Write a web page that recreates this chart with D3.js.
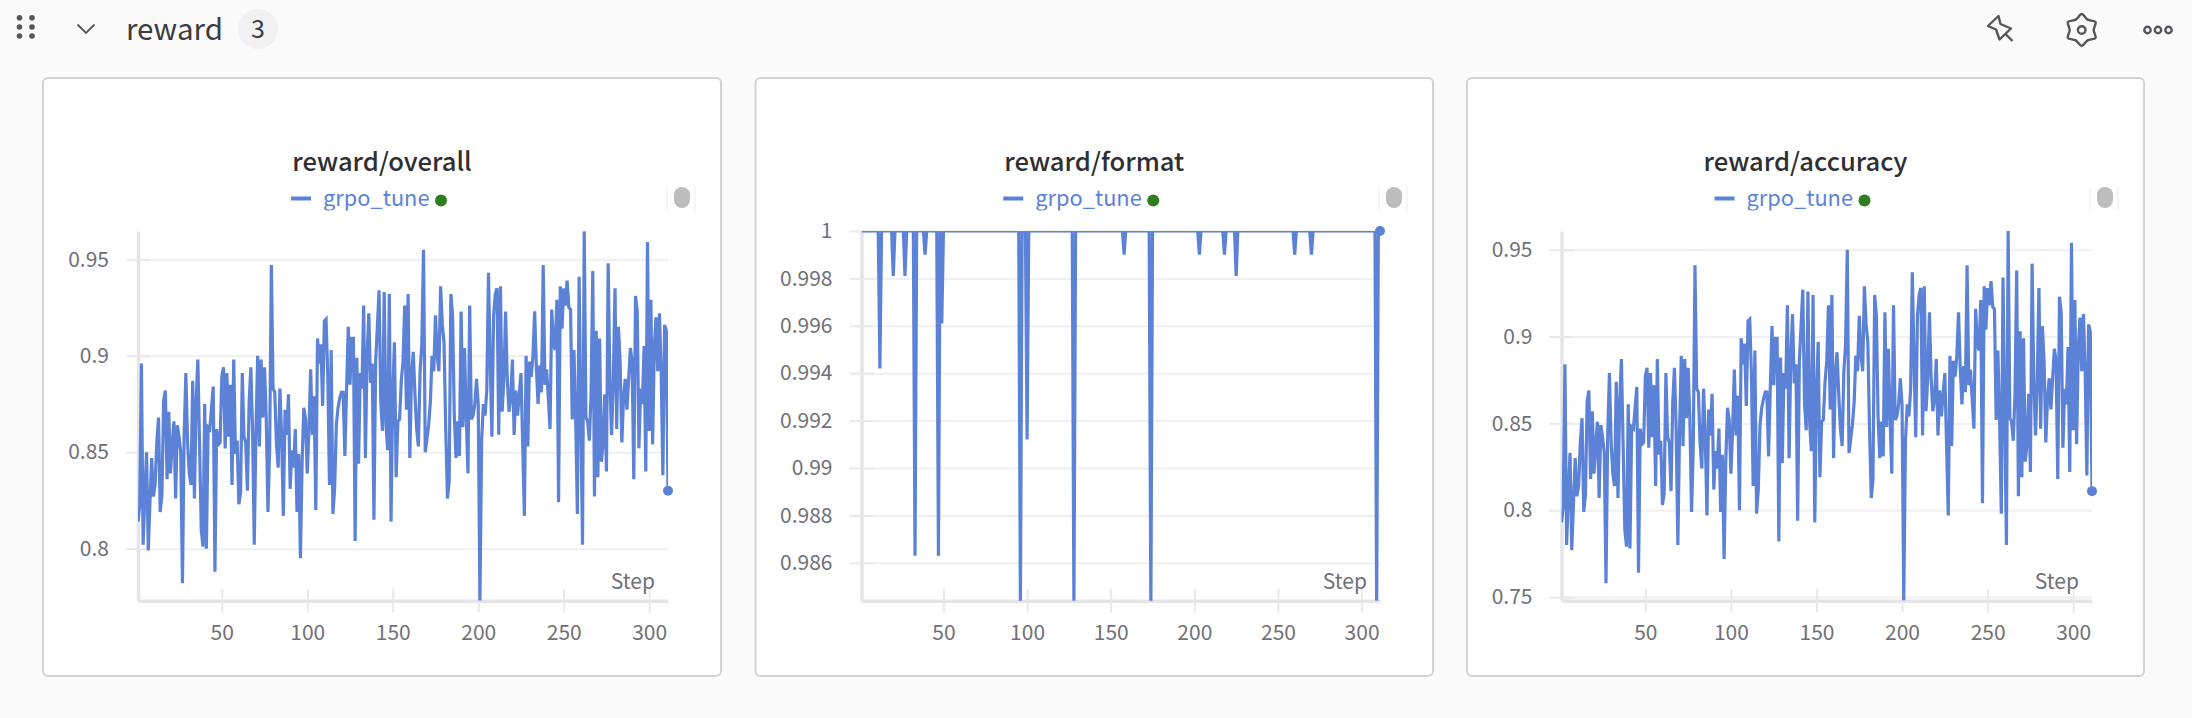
<!DOCTYPE html>
<html>
<head>
<meta charset="utf-8">
<script src="https://cdn.jsdelivr.net/npm/d3@7"></script>
<style>
  html, body { margin: 0; background: #fafafa; overflow: hidden; }
  text { font-family: "Noto Sans CJK SC", "Noto Sans", sans-serif; }
</style>
</head>
<body>
<div id="chart"></div>
<script>
const overall = [
  .814,.822,.896,.802,.828,.85,.799,.824,.847,.827,.833,.855,.868,.819,.828,.877,.882,.836,.871,.839,
  .854,.866,.826,.864,.858,.85,.782,.859,.891,.855,.839,.833,.887,.826,.876,.898,.854,.81,.801,.875,
  .8,.863,.862,.873,.884,.788,.862,.854,.855,.889,.894,.852,.891,.858,.885,.833,.898,.849,.856,.823,
  .829,.891,.858,.855,.83,.876,.894,.862,.802,.862,.9,.853,.898,.868,.894,.868,.819,.852,.947,.883,
  .881,.854,.842,.883,.859,.817,.872,.859,.88,.831,.851,.842,.862,.819,.849,.795,.845,.873,.867,.839,
  .862,.893,.859,.879,.82,.909,.896,.906,.874,.918,.919,.89,.833,.903,.818,.831,.864,.873,.878,.881,
  .881,.848,.883,.915,.885,.909,.909,.804,.899,.844,.891,.883,.926,.847,.9,.922,.886,.896,.815,.897,
  .915,.934,.876,.861,.933,.866,.851,.932,.814,.88,.907,.837,.866,.867,.887,.897,.926,.872,.932,.847,
  .89,.902,.88,.862,.853,.892,.906,.955,.85,.857,.864,.876,.9,.892,.921,.9,.892,.936,.916,.907,
  .862,.826,.835,.932,.921,.869,.847,.866,.848,.923,.863,.904,.868,.839,.926,.867,.869,.875,.888,.875,
  .773,.856,.875,.869,.882,.943,.897,.858,.921,.932,.935,.859,.936,.871,.888,.923,.888,.871,.878,.898,
  .859,.882,.869,.88,.891,.854,.817,.9,.853,.897,.889,.9,.923,.894,.875,.895,.881,.947,.885,.893,
  .878,.862,.924,.906,.903,.929,.824,.936,.914,.935,.926,.939,.925,.924,.867,.903,.867,.818,.941,.869,
  .802,.9645,.868,.866,.856,.88,.944,.827,.913,.837,.909,.845,.854,.88,.84,.948,.887,.859,.887,.935,
  .862,.915,.897,.855,.878,.888,.872,.888,.904,.897,.836,.931,.923,.852,.883,.875,.905,.84,.959,.861,
  .929,.854,.905,.92,.892,.922,.892,.838,.916,.913,.83
];

const accuracy = [
  .793,.802,.884,.78,.809,.833,.777,.804,.83,.808,.814,.839,.853,.799,.809,.863,.869,.818,.857,.821,
  .838,.851,.807,.849,.842,.833,.758,.843,.879,.839,.821,.814,.874,.807,.862,.887,.838,.789,.779,.861,
  .778,.848,.847,.859,.871,.764,.847,.838,.839,.877,.882,.836,.879,.842,.872,.814,.887,.832,.84,.803,
  .81,.879,.842,.839,.811,.862,.882,.847,.78,.847,.889,.837,.887,.853,.882,.853,.799,.836,.941,.87,
  .868,.838,.824,.87,.843,.797,.858,.843,.867,.812,.834,.824,.847,.799,.832,.772,.828,.859,.852,.821,
  .847,.881,.843,.866,.8,.899,.884,.896,.86,.909,.91,.878,.814,.892,.798,.812,.849,.859,.864,.868,
  .868,.831,.87,.906,.872,.899,.899,.782,.888,.827,.879,.87,.918,.83,.889,.913,.873,.884,.794,.886,
  .906,.927,.862,.846,.926,.851,.834,.924,.793,.867,.897,.819,.851,.852,.874,.886,.918,.858,.924,.83,
  .878,.891,.867,.847,.837,.88,.896,.95,.833,.841,.849,.862,.889,.88,.912,.889,.88,.929,.907,.897,
  .847,.807,.817,.924,.912,.854,.83,.851,.831,.914,.848,.893,.853,.821,.918,.852,.854,.861,.876,.861,
  .748,.84,.861,.854,.869,.937,.886,.842,.912,.924,.928,.843,.929,.857,.876,.914,.876,.857,.864,.887,
  .843,.869,.854,.867,.879,.838,.797,.889,.837,.886,.877,.889,.914,.882,.861,.883,.868,.941,.872,.881,
  .864,.847,.916,.896,.892,.921,.804,.929,.904,.928,.918,.932,.917,.916,.852,.892,.852,.798,.934,.854,
  .78,.961,.853,.851,.84,.867,.938,.808,.903,.819,.899,.828,.838,.867,.822,.942,.874,.843,.874,.928,
  .847,.906,.886,.839,.864,.876,.858,.876,.893,.886,.818,.923,.914,.836,.87,.861,.894,.822,.954,.846,
  .921,.838,.894,.911,.88,.913,.88,.82,.907,.903,.811
];

// format sits at 1 except for these steps
const formatDipSteps = [12, 20, 27, 33, 39, 47, 49, 96, 100, 128, 158, 174, 203, 218, 225, 260, 270, 309];
const formatDipValues = [.9942, .9981, .9981, .9863, .999, .9863, .9961, .984, .9912, .984, .999, .984, .999, .999, .9981, .999, .999, .984];
const formatDips = new Map(formatDipSteps.map((s, i) => [s, formatDipValues[i]]));
const format = d3.range(1, 312).map(s => formatDips.has(s) ? formatDips.get(s) : 1);

const xTicks = [50, 100, 150, 200, 250, 300];
const overallTicks = [0.8, 0.85, 0.9, 0.95];
const formatTicks = [0.986, 0.988, 0.99, 0.992, 0.994, 0.996, 0.998, 1];
const accuracyTicks = [0.75, 0.8, 0.85, 0.9, 0.95];

const WIDTH = 2192;
const HEIGHT = 718;
const BLUE = "#5c82d8";
const AXIS_TEXT = "#707078";

const svg = d3.select("#chart")
  .append("svg")
  .attr("width", WIDTH)
  .attr("height", HEIGHT)
  .attr("viewBox", `0 0 ${WIDTH} ${HEIGHT}`)
  .style("display", "block");

// section header
const header = svg.append("g").attr("id", "header");

header.selectAll("circle.grip")
  .data(d3.cross([19.5, 32], [17.7, 27, 36]))
  .enter()
  .append("circle")
  .attr("class", "grip")
  .attr("cx", d => d[0])
  .attr("cy", d => d[1])
  .attr("r", 2.8)
  .attr("fill", "#55555c");

header.append("path")
  .attr("d", "M77.5 24.5 L86 33 L94.5 24.5")
  .attr("fill", "none")
  .attr("stroke", "#55555c")
  .attr("stroke-width", 1.8);

header.append("text")
  .attr("x", 126)
  .attr("y", 40)
  .attr("font-size", 29.5)
  .attr("fill", "#3c3c42")
  .text("reward");

header.append("circle")
  .attr("cx", 258)
  .attr("cy", 29)
  .attr("r", 20)
  .attr("fill", "#f1f1f2");

header.append("text")
  .attr("x", 258)
  .attr("y", 38)
  .attr("text-anchor", "middle")
  .attr("font-size", 25)
  .attr("fill", "#3c3c42")
  .text("3");

// pin, gear and more icons
const icons = svg.append("g")
  .attr("fill", "none")
  .attr("stroke", "#55555c")
  .attr("stroke-width", 2.4)
  .attr("stroke-linejoin", "round");

icons.append("path")
  .attr("d", "M1988 26 L1998.5 16 L2000.5 24 L2011 28.5 L1999.5 39.5 L1996 29.5 Z M2005 33.5 L2012.5 41");

const gearPoints = d3.range(12).map(i => [i * Math.PI / 6, i % 2 ? 12 : 16]);
icons.append("path")
  .attr("transform", "translate(2081.7,30)")
  .attr("d", d3.lineRadial().curve(d3.curveCardinalClosed.tension(0.2))(gearPoints));

icons.append("circle")
  .attr("cx", 2081.7)
  .attr("cy", 30)
  .attr("r", 3.8);

icons.selectAll("circle.more")
  .data([2147.5, 2158, 2168.5])
  .enter()
  .append("circle")
  .attr("class", "more")
  .attr("cx", d => d)
  .attr("cy", 30)
  .attr("r", 3.2);

function drawPanel(id, title, values, yDomain, yTicks, card, plot) {
  const g = svg.append("g").attr("id", id);
  const cx = (card.left + card.right) / 2;

  g.append("rect")
    .attr("x", card.left)
    .attr("y", 78)
    .attr("width", card.right - card.left)
    .attr("height", 598)
    .attr("rx", 5)
    .attr("fill", "#fff")
    .attr("stroke", "#d3d3d5")
    .attr("stroke-width", 2);

  const x = d3.scaleLinear().domain([1, 311]).range([plot.left, plot.right]);
  const y = d3.scaleLinear().domain(yDomain).range([600.7, 231]);

  // grid
  g.append("g")
    .attr("transform", `translate(${plot.left},0)`)
    .call(d3.axisLeft(y).tickValues(yTicks).tickSize(-(plot.right - plot.left)).tickFormat(""))
    .call(a => a.select(".domain").remove())
    .call(a => a.selectAll("line").attr("stroke", "#efeff1").attr("stroke-width", 2));

  // y axis
  g.append("g")
    .attr("transform", `translate(${plot.left},0)`)
    .call(d3.axisLeft(y).tickValues(yTicks).tickSizeInner(12).tickSizeOuter(0).tickPadding(17).tickFormat(d => d))
    .call(a => a.select(".domain").attr("stroke", "#e5e5e9").attr("stroke-width", 3.5))
    .call(a => a.selectAll("line").attr("x2", 12).attr("x1", -12).attr("stroke", "#e9e9ec").attr("stroke-width", 2))
    .call(a => a.selectAll("text").attr("font-size", 21).attr("fill", AXIS_TEXT));

  // x axis
  g.append("g")
    .attr("transform", "translate(0,600.7)")
    .call(d3.axisBottom(x).tickValues(xTicks).tickSizeInner(12).tickSizeOuter(0).tickPadding(12))
    .call(a => a.select(".domain").attr("stroke", "#e5e5e9").attr("stroke-width", 3.5))
    .call(a => a.selectAll("line").attr("y1", -12).attr("stroke", "#e9e9ec").attr("stroke-width", 2))
    .call(a => a.selectAll("text").attr("font-size", 21).attr("fill", AXIS_TEXT));

  g.append("text")
    .attr("x", plot.right - 13)
    .attr("y", 589)
    .attr("text-anchor", "end")
    .attr("font-size", 21)
    .attr("fill", AXIS_TEXT)
    .text("Step");

  // series, cut at the plot edges
  g.append("clipPath")
    .attr("id", `${id}-clip`)
    .append("rect")
    .attr("x", plot.left)
    .attr("y", 231)
    .attr("width", plot.right - plot.left)
    .attr("height", 369.7);

  const line = d3.line()
    .x((d, i) => x(i + 1))
    .y(d => y(d));

  g.append("path")
    .datum(values)
    .attr("clip-path", `url(#${id}-clip)`)
    .attr("fill", "none")
    .attr("stroke", BLUE)
    .attr("stroke-width", 3.2)
    .attr("stroke-linejoin", "miter")
    .attr("d", line);

  g.append("circle")
    .attr("cx", x(311))
    .attr("cy", y(values[310]))
    .attr("r", 5)
    .attr("fill", BLUE);

  // title and legend
  g.append("text")
    .attr("x", cx)
    .attr("y", 171)
    .attr("text-anchor", "middle")
    .attr("font-size", 25.6)
    .attr("font-weight", 500)
    .attr("fill", "#2e2e33")
    .text(title);

  g.append("clipPath")
    .attr("id", `${id}-legend-clip`)
    .append("rect")
    .attr("x", cx - 100)
    .attr("y", 180)
    .attr("width", 200)
    .attr("height", 30.5);

  g.append("line")
    .attr("x1", cx - 91)
    .attr("x2", cx - 71)
    .attr("y1", 198.5)
    .attr("y2", 198.5)
    .attr("stroke", BLUE)
    .attr("stroke-width", 4);

  g.append("text")
    .attr("clip-path", `url(#${id}-legend-clip)`)
    .attr("x", cx - 59)
    .attr("y", 206)
    .attr("font-size", 21.8)
    .attr("fill", BLUE)
    .text("grpo_tune");

  g.append("circle")
    .attr("cx", cx + 59)
    .attr("cy", 200.5)
    .attr("r", 6)
    .attr("fill", "#2f7d1f");

  // legend scroll handle
  g.selectAll("line.handle")
    .data([card.right - 54, card.right - 26])
    .enter()
    .append("line")
    .attr("class", "handle")
    .attr("x1", d => d)
    .attr("x2", d => d)
    .attr("y1", 187)
    .attr("y2", 210)
    .attr("stroke", "#ececec");

  g.append("rect")
    .attr("x", card.right - 47)
    .attr("y", 187)
    .attr("width", 16)
    .attr("height", 21)
    .attr("rx", 8)
    .attr("fill", "#bdbdbd");
}

drawPanel("overall", "reward/overall", overall, [0.773, 0.9647], overallTicks,
  {left: 43, right: 721}, {left: 138, right: 668});
drawPanel("format", "reward/format", format, [0.9844, 1], formatTicks,
  {left: 755.5, right: 1433}, {left: 861.5, right: 1380});
drawPanel("accuracy", "reward/accuracy", accuracy, [0.7479, 0.9608], accuracyTicks,
  {left: 1467, right: 2144}, {left: 1561.5, right: 2092});
</script>
</body>
</html>
